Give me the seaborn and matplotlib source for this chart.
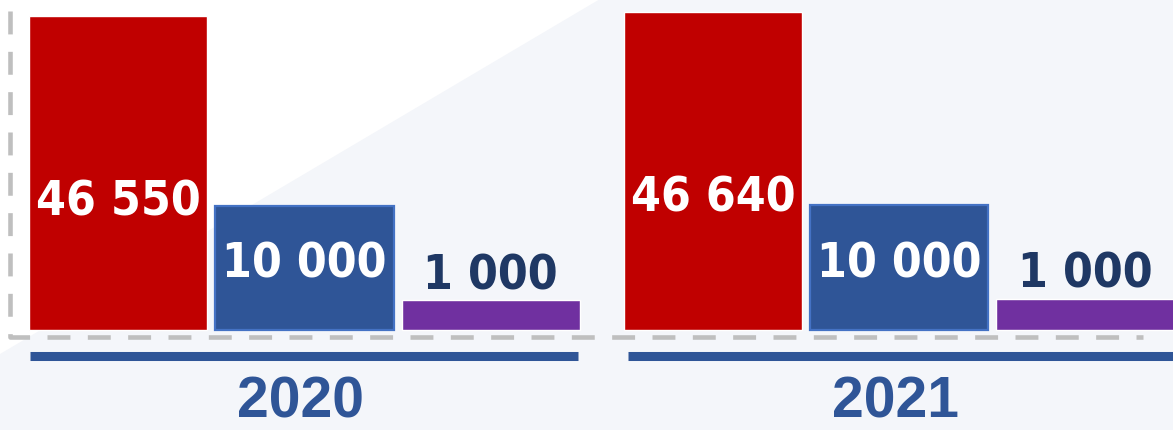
import numpy as np
import pandas as pd
import seaborn as sns
import matplotlib.pyplot as plt
from matplotlib.patches import Polygon

# ---- data ----
years = ["2020", "2021"]
series_names = ["Série 1", "Série 2", "Série 3"]
values_s1 = [46550, 46640]
values_s2 = [10000, 10000]
values_s3 = [1000, 1000]
# visual bar heights as drawn in the original (not proportional to values)
heights_s1 = [314, 318]
heights_s2 = [124, 125]
heights_s3 = [30, 31]

colors = ["#c00000", "#2f5597", "#7030a0"]
label_colors = ["white", "white", "#1f3864"]
label_offsets = [198, 71, -12]   # baseline distance below bar top (px units)

rows = []
for s, vals, hts in zip(series_names, [values_s1, values_s2, values_s3],
                        [heights_s1, heights_s2, heights_s3]):
    for y, v, h in zip(years, vals, hts):
        rows.append({"year": y, "series": s, "value": v, "height": h})
df = pd.DataFrame(rows)

sns.set_theme(style="white")
plt.rcParams['font.family'] = ['DejaVu Sans']

fig = plt.figure(figsize=(11.73, 4.31), dpi=100)
fig.patch.set_facecolor("#f4f6fa")
ax = fig.add_axes([0, 0, 1, 1])
ax.set_facecolor("none")

sns.barplot(data=df, x="year", y="height", hue="series", hue_order=series_names,
            order=years, palette=colors, width=0.939, gap=0.043, dodge=True,
            errorbar=None, saturation=1, legend=False, ax=ax, zorder=3)

# pixel helpers for decoration placement
def px(xp):
    return (xp - 304.5) / 594.5

def py(yp):
    return 331 - yp

ax.set_xlim(px(0), px(1173))
ax.set_ylim(py(431), py(0))
ax.axis("off")

# background light diagonal
ax.add_patch(Polygon([(0, 1), (600 / 1173, 1), (0, 1 - 355 / 431)],
                     closed=True, transform=ax.transAxes, facecolor="white",
                     edgecolor="none", zorder=0))

# edge on blue bars
for p in ax.containers[1]:
    p.set_edgecolor("#4472c4")
    p.set_linewidth(1.6)

# value labels
fmt = lambda v: f"{v:,}".replace(",", " ")
for i, cont in enumerate(ax.containers):
    vals = [values_s1, values_s2, values_s3][i]
    for j, p in enumerate(cont):
        cx = p.get_x() + p.get_width() / 2
        top = p.get_height()
        ax.text(cx, top - label_offsets[i], fmt(vals[j]), ha="center", va="baseline",
                color=label_colors[i], fontsize=34.5, fontweight="bold",
                fontstretch="condensed", family="DejaVu Sans", zorder=5)

# dashed L-shaped axis
ax.plot([px(10), px(10), px(1143)], [py(12), py(338), py(338)], color="#bfbfbf",
        lw=3.3, linestyle=(0, (5, 3.8)), dash_capstyle="butt", zorder=2)

# group underlines
for x0, x1 in [(30, 578), (628, 1185)]:
    ax.plot([px(x0), px(x1)], [py(356.5), py(356.5)], color="#2f5597", lw=6.5,
            solid_capstyle="butt", zorder=2)

# year labels
for k, y in enumerate(years):
    ax.text(k - 0.006, py(418), y, ha="center", va="baseline", color="#2f5597",
            fontsize=41, fontweight="bold", family="Liberation Sans", zorder=5)

fig.savefig("out.png", dpi=100, facecolor=fig.get_facecolor())
